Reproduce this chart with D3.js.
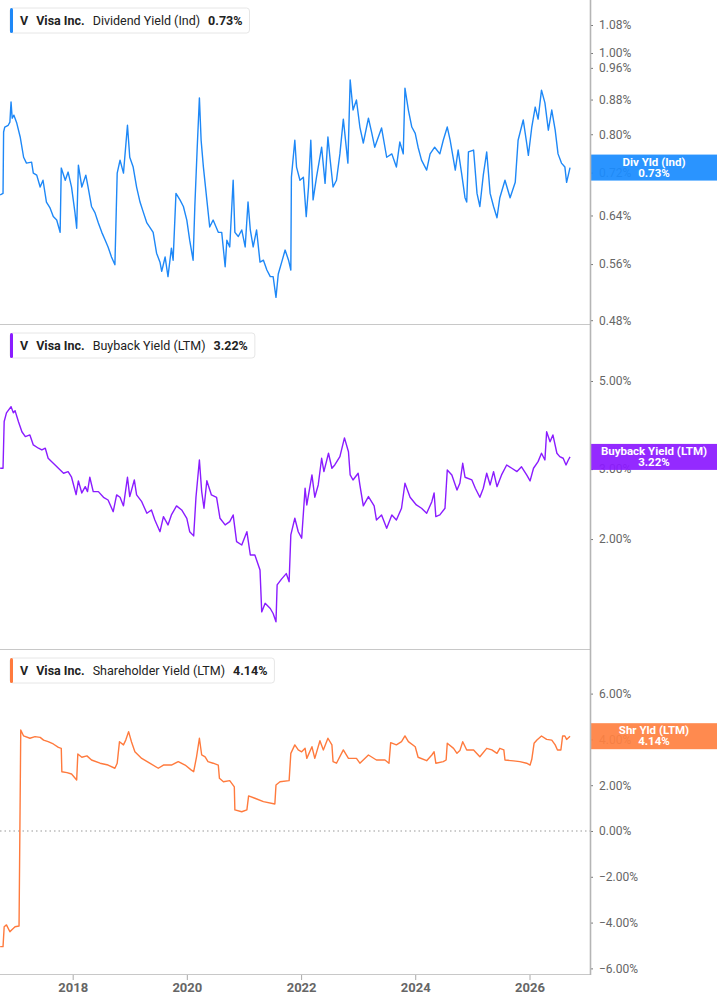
<!DOCTYPE html>
<html>
<head>
<meta charset="utf-8">
<script src="https://cdn.jsdelivr.net/npm/d3@7"></script>
<style>
  body { margin: 0; background: #fff; }
  svg { display: block; font-family: Roboto, "Noto Sans", sans-serif; }
</style>
</head>
<body>
<svg id="chart"></svg>
<script>
// dates are decimal years, values in percent
const divDates = [2016.73,2016.78,2016.79,2016.81,2016.87,2016.90,2016.92,2016.94,2016.97,2017.02,2017.08,2017.14,2017.19,2017.28,2017.31,2017.37,2017.43,2017.48,2017.54,2017.60,2017.66,2017.72,2017.78,2017.80,2017.87,2017.92,2017.98,2018.04,2018.07,2018.10,2018.16,2018.23,2018.27,2018.33,2018.39,2018.45,2018.51,2018.57,2018.62,2018.68,2018.74,2018.78,2018.83,2018.89,2018.96,2019.00,2019.06,2019.12,2019.18,2019.24,2019.30,2019.35,2019.41,2019.47,2019.53,2019.56,2019.62,2019.67,2019.73,2019.76,2019.81,2019.88,2019.94,2020.00,2020.05,2020.11,2020.14,2020.18,2020.22,2020.25,2020.29,2020.35,2020.40,2020.46,2020.55,2020.61,2020.67,2020.70,2020.75,2020.81,2020.84,2020.90,2020.96,2021.02,2021.07,2021.11,2021.16,2021.22,2021.28,2021.34,2021.40,2021.46,2021.51,2021.56,2021.60,2021.66,2021.72,2021.78,2021.82,2021.83,2021.89,2021.92,2021.98,2022.04,2022.09,2022.13,2022.17,2022.21,2022.27,2022.36,2022.42,2022.47,2022.51,2022.56,2022.62,2022.68,2022.74,2022.82,2022.86,2022.91,2022.97,2023.03,2023.09,2023.18,2023.24,2023.29,2023.41,2023.50,2023.59,2023.67,2023.73,2023.79,2023.82,2023.88,2023.94,2024.00,2024.05,2024.11,2024.20,2024.26,2024.34,2024.43,2024.49,2024.56,2024.61,2024.70,2024.75,2024.81,2024.87,2024.90,2024.93,2025.02,2025.08,2025.13,2025.19,2025.25,2025.31,2025.37,2025.43,2025.48,2025.57,2025.66,2025.75,2025.80,2025.89,2025.95,2025.98,2026.04,2026.10,2026.15,2026.21,2026.27,2026.33,2026.39,2026.45,2026.50,2026.56,2026.62,2026.65,2026.71];
const divValues = [0.677,0.680,0.805,0.816,0.820,0.827,0.874,0.836,0.843,0.825,0.794,0.751,0.739,0.741,0.719,0.715,0.692,0.705,0.664,0.654,0.638,0.632,0.611,0.729,0.705,0.721,0.692,0.645,0.618,0.735,0.692,0.715,0.692,0.656,0.645,0.627,0.611,0.598,0.587,0.571,0.559,0.719,0.745,0.719,0.820,0.751,0.731,0.692,0.664,0.645,0.627,0.620,0.611,0.577,0.563,0.549,0.571,0.541,0.585,0.566,0.680,0.668,0.656,0.632,0.598,0.566,0.656,0.766,0.884,0.787,0.731,0.668,0.620,0.632,0.611,0.611,0.556,0.598,0.587,0.705,0.611,0.604,0.615,0.587,0.664,0.615,0.587,0.615,0.563,0.566,0.551,0.541,0.541,0.511,0.545,0.563,0.582,0.566,0.551,0.711,0.787,0.731,0.705,0.711,0.638,0.692,0.787,0.668,0.711,0.772,0.699,0.794,0.745,0.692,0.705,0.758,0.834,0.739,0.929,0.855,0.879,0.816,0.781,0.836,0.802,0.772,0.814,0.751,0.758,0.731,0.783,0.758,0.908,0.855,0.816,0.802,0.772,0.745,0.725,0.758,0.772,0.758,0.787,0.816,0.787,0.725,0.766,0.719,0.672,0.664,0.762,0.766,0.680,0.656,0.715,0.762,0.680,0.656,0.636,0.672,0.705,0.672,0.701,0.787,0.832,0.781,0.755,0.816,0.862,0.834,0.903,0.872,0.809,0.855,0.809,0.758,0.739,0.731,0.701,0.730];

const bbDates = [2016.73,2016.78,2016.80,2016.84,2016.92,2016.96,2016.99,2017.05,2017.11,2017.17,2017.25,2017.31,2017.40,2017.46,2017.52,2017.57,2017.66,2017.75,2017.84,2017.92,2017.98,2018.06,2018.10,2018.16,2018.22,2018.26,2018.30,2018.36,2018.45,2018.54,2018.62,2018.71,2018.77,2018.83,2018.89,2018.96,2019.00,2019.08,2019.12,2019.21,2019.30,2019.38,2019.44,2019.53,2019.59,2019.67,2019.73,2019.82,2019.91,2020.00,2020.05,2020.12,2020.16,2020.22,2020.26,2020.30,2020.35,2020.43,2020.52,2020.58,2020.67,2020.75,2020.81,2020.87,2020.96,2021.05,2021.11,2021.19,2021.28,2021.31,2021.37,2021.46,2021.51,2021.56,2021.58,2021.66,2021.74,2021.79,2021.82,2021.89,2021.95,2022.01,2022.07,2022.10,2022.19,2022.24,2022.30,2022.36,2022.40,2022.48,2022.54,2022.59,2022.68,2022.76,2022.83,2022.86,2022.91,2023.00,2023.03,2023.09,2023.18,2023.28,2023.32,2023.41,2023.50,2023.59,2023.67,2023.76,2023.82,2023.91,2024.02,2024.11,2024.20,2024.29,2024.33,2024.36,2024.43,2024.52,2024.56,2024.64,2024.73,2024.78,2024.83,2024.87,2024.99,2025.05,2025.13,2025.19,2025.25,2025.31,2025.37,2025.43,2025.51,2025.60,2025.69,2025.78,2025.86,2025.95,2026.01,2026.07,2026.15,2026.21,2026.27,2026.30,2026.36,2026.41,2026.48,2026.53,2026.59,2026.64,2026.68,2026.71];
const bbValues = [3.015,3.015,3.953,4.157,4.310,4.157,4.211,3.949,3.726,3.623,3.658,3.451,3.386,3.352,3.386,3.195,3.103,3.015,2.929,2.957,2.862,2.587,2.802,2.613,2.710,2.633,2.862,2.633,2.633,2.548,2.508,2.344,2.583,2.548,2.424,2.862,2.558,2.817,2.583,2.484,2.322,2.367,2.234,2.087,2.278,2.171,2.300,2.424,2.367,2.256,2.087,2.037,2.548,3.163,2.633,2.391,2.805,2.583,2.548,2.256,2.171,2.212,2.300,1.970,1.932,2.087,1.824,1.824,1.672,1.311,1.378,1.337,1.299,1.238,1.533,1.588,1.637,1.562,2.048,2.256,2.087,2.010,2.685,2.437,2.901,2.548,2.737,3.195,2.957,3.289,3.015,3.073,3.226,3.595,3.318,2.901,2.817,2.929,2.737,2.424,2.558,2.424,2.234,2.300,2.129,2.300,2.234,2.391,2.764,2.548,2.437,2.391,2.322,2.484,2.613,2.278,2.300,2.391,2.985,2.901,2.658,2.764,3.103,2.862,2.817,2.685,2.548,2.685,2.929,2.737,2.957,2.710,2.901,3.073,3.015,2.957,3.041,2.901,2.802,3.015,3.133,3.289,3.163,3.726,3.514,3.658,3.289,3.226,3.195,3.073,3.163,3.220];

const shDates = [2016.73,2016.78,2016.80,2016.84,2016.90,2016.93,2016.99,2017.06,2017.09,2017.14,2017.25,2017.34,2017.43,2017.49,2017.57,2017.66,2017.75,2017.80,2017.81,2017.90,2017.98,2018.07,2018.09,2018.16,2018.25,2018.33,2018.48,2018.62,2018.74,2018.78,2018.82,2018.89,2018.93,2018.98,2019.03,2019.09,2019.21,2019.35,2019.50,2019.59,2019.73,2019.85,2019.97,2020.08,2020.12,2020.17,2020.22,2020.26,2020.32,2020.37,2020.46,2020.55,2020.57,2020.64,2020.75,2020.83,2020.84,2020.96,2021.05,2021.08,2021.19,2021.34,2021.54,2021.56,2021.63,2021.79,2021.82,2021.89,2021.95,2022.01,2022.07,2022.10,2022.19,2022.24,2022.33,2022.39,2022.47,2022.54,2022.56,2022.62,2022.74,2022.83,2022.97,2023.03,2023.18,2023.32,2023.47,2023.54,2023.57,2023.67,2023.76,2023.82,2023.88,2024.00,2024.05,2024.20,2024.29,2024.33,2024.36,2024.49,2024.54,2024.56,2024.67,2024.73,2024.78,2024.83,2024.90,2025.02,2025.13,2025.25,2025.34,2025.43,2025.48,2025.55,2025.57,2025.72,2025.83,2025.95,2026.01,2026.04,2026.08,2026.13,2026.21,2026.30,2026.39,2026.45,2026.49,2026.55,2026.58,2026.62,2026.65,2026.71];
const shValues = [-5.05,-5.05,-4.18,-4.10,-4.40,-4.32,-4.18,-4.15,4.41,4.15,4.05,4.12,4.09,3.97,3.90,3.80,3.65,3.61,2.59,2.55,2.49,2.23,3.36,3.22,3.28,3.10,2.96,2.88,2.74,2.96,3.90,3.76,3.97,4.34,3.90,3.46,3.17,2.96,2.74,2.88,2.88,3.03,2.88,2.66,2.59,3.24,4.05,3.32,3.24,3.03,2.96,2.88,2.30,2.15,2.20,1.93,0.92,0.84,0.92,1.53,1.43,1.28,1.18,2.01,2.15,2.20,3.39,3.76,3.54,3.46,3.61,3.17,3.68,3.17,3.94,3.54,4.05,3.76,3.03,2.96,3.54,3.17,3.17,2.96,3.32,3.10,3.10,2.96,3.86,3.76,3.90,4.15,3.90,3.68,3.22,3.07,3.32,3.46,2.96,3.03,3.10,3.83,3.61,3.39,3.51,3.90,3.54,3.54,3.24,3.61,3.54,3.39,3.61,3.54,3.10,3.06,3.03,2.96,2.88,3.13,3.83,3.97,4.15,4.00,3.97,3.76,3.54,3.54,4.15,4.15,4.00,4.14];

const divTicks = [1.08, 1.00, 0.96, 0.88, 0.80, 0.72, 0.64, 0.56, 0.48];
const bbTicks = [5, 3, 2];
const shTicks = [6, 4, 2, 0, -2, -4, -6];
const yearTicks = [2018, 2020, 2022, 2024, 2026];

const width = 717;
const height = 1005;
const plotRight = 590;

const svg = d3.select("#chart")
  .attr("width", width)
  .attr("height", height);

const toDate = t => {
  const y = Math.floor(t);
  const a = new Date(y, 0, 1), b = new Date(y + 1, 0, 1);
  return new Date(+a + (t - y) * (b - a));
};

const x = d3.scaleTime()
  .domain([toDate(2016.727), toDate(2027.06)])
  .range([0, plotRight]);

const panels = [
  {
    dates: divDates, values: divValues, ticks: divTicks,
    y: d3.scaleLog().domain([0.475, 1.1568]).range([324, 0]),
    top: 0, bottom: 324,
    color: "#1e88f7", tag: "#1a8cff",
    metric: "Dividend Yield (Ind)", last: "0.73%", tagName: "Div Yld (Ind)"
  },
  {
    dates: bbDates, values: bbValues, ticks: bbTicks,
    y: d3.scaleLog().domain([1.0573, 6.918]).range([649, 325]),
    top: 325, bottom: 649,
    color: "#8a1cff", tag: "#8c1aff",
    metric: "Buyback Yield (LTM)", last: "3.22%", tagName: "Buyback Yield (LTM)"
  },
  {
    dates: shDates, values: shValues, ticks: shTicks,
    y: d3.scaleLinear().domain([-6.245, 7.904]).range([974, 650]),
    top: 650, bottom: 974,
    color: "#ff7a3d", tag: "#ff8142",
    metric: "Shareholder Yield (LTM)", last: "4.14%", tagName: "Shr Yld (LTM)",
    zero: true
  }
];

panels.forEach(p => {
  const g = svg.append("g");

  // separator / bottom line
  g.append("line")
    .attr("x1", 0).attr("x2", plotRight)
    .attr("y1", p.bottom + 0.5).attr("y2", p.bottom + 0.5)
    .attr("stroke", "#c8c8c8")
    .attr("stroke-width", 1.2);

  if (p.zero) {
    g.append("line")
      .attr("x1", 0).attr("x2", plotRight)
      .attr("y1", p.y(0)).attr("y2", p.y(0))
      .attr("stroke", "#999")
      .attr("stroke-width", 1.2)
      .attr("stroke-dasharray", "1.5,3");
  }

  // y axis on the right
  const axis = d3.axisRight(p.y)
    .tickValues(p.ticks)
    .tickSize(3)
    .tickPadding(6)
    .tickFormat(d => d3.format(".2f")(d) + "%");

  const ag = g.append("g")
    .attr("transform", `translate(${plotRight},0)`)
    .call(axis);
  ag.select(".domain").remove();
  ag.selectAll(".tick line").attr("stroke", "#777");
  ag.selectAll(".tick text")
    .attr("fill", "#666")
    .style("font-size", "12px")
    .style("font-family", "Roboto, sans-serif");

  // line
  const pts = d3.zip(p.dates, p.values);
  const line = d3.line()
    .x(d => x(toDate(d[0])))
    .y(d => p.y(d[1]));

  g.append("path")
    .datum(pts)
    .attr("fill", "none")
    .attr("stroke", p.color)
    .attr("stroke-width", 1.4)
    .attr("stroke-linejoin", "round")
    .attr("d", line);

  // last value tag
  const lastY = p.y(p.values[p.values.length - 1]);
  g.append("rect")
    .attr("x", plotRight + 1)
    .attr("y", lastY - 13)
    .attr("width", width - plotRight - 1)
    .attr("height", 26)
    .attr("fill", p.tag)
    .attr("fill-opacity", 0.93);
  const tagText = g.append("text")
    .attr("text-anchor", "middle")
    .attr("fill", "#fff")
    .style("font-size", "11.5px")
    .style("font-weight", "700");
  tagText.append("tspan")
    .attr("x", 654).attr("y", lastY - 2)
    .text(p.tagName);
  tagText.append("tspan")
    .attr("x", 654).attr("y", lastY + 9)
    .text(p.last);

  // legend
  const lg = g.append("g")
    .attr("transform", `translate(10,${p.top + 8})`);
  const box = lg.append("rect")
    .attr("x", 0).attr("y", 0)
    .attr("height", 25)
    .attr("rx", 3)
    .attr("fill", "#fff")
    .attr("stroke", "#e6e6e6");
  lg.append("rect")
    .attr("x", 0).attr("y", 0)
    .attr("width", 3).attr("height", 25)
    .attr("rx", 1.5)
    .attr("fill", p.color);

  const lt = lg.append("text")
    .attr("x", 10).attr("y", 17)
    .attr("fill", "#222")
    .style("font-size", "12.5px");
  lt.append("tspan").style("font-weight", "700").text("V");
  lt.append("tspan").attr("dx", 8).style("font-weight", "700").text("Visa Inc.");
  lt.append("tspan").attr("dx", 8).style("font-weight", "400").text(p.metric);
  lt.append("tspan").attr("dx", 8).style("font-weight", "700").text(p.last);

  const bb = lt.node().getBBox();
  box.attr("width", bb.x + bb.width + 7);
});

// vertical axis line
svg.append("line")
  .attr("x1", plotRight + 0.5).attr("x2", plotRight + 0.5)
  .attr("y1", 0).attr("y2", 975)
  .attr("stroke", "#b5b5b5")
  .attr("stroke-width", 1.6);

// x axis
const xg = svg.append("g")
  .attr("transform", "translate(0,975)")
  .call(d3.axisBottom(x)
    .tickValues(yearTicks.map(t => toDate(t)))
    .tickSize(5)
    .tickPadding(3)
    .tickFormat(d3.timeFormat("%Y")));
xg.select(".domain").remove();
xg.selectAll(".tick line").attr("stroke", "#aaa");
xg.selectAll(".tick text")
  .attr("fill", "#666")
  .style("font-size", "13px")
  .style("font-weight", "700")
  .style("font-family", "Roboto, sans-serif");
</script>
</body>
</html>
